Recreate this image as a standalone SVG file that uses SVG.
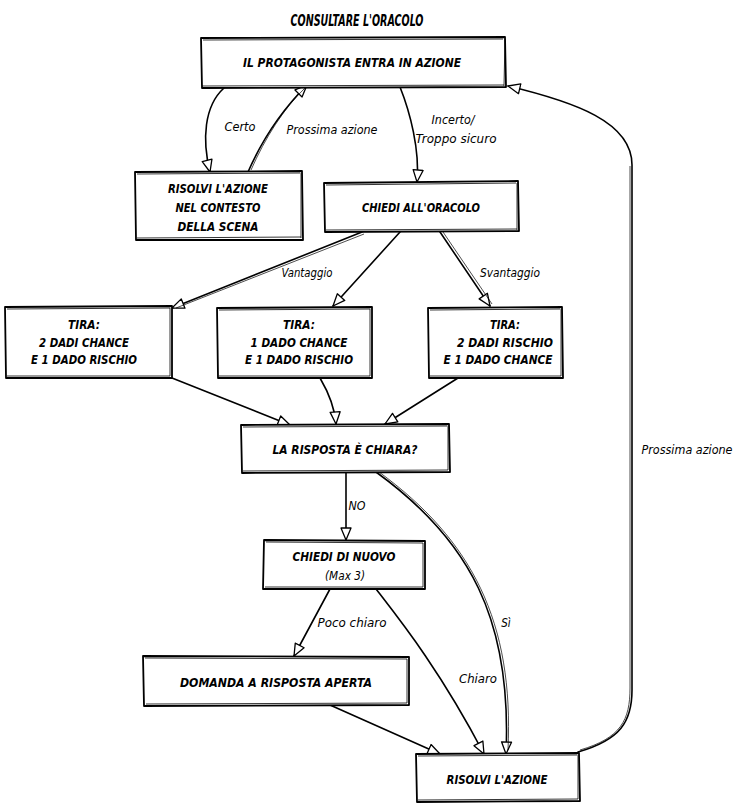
<svg xmlns="http://www.w3.org/2000/svg" width="744" height="808" viewBox="0 0 744 808">
<defs>
<marker id="ah" markerUnits="userSpaceOnUse" markerWidth="16" markerHeight="14" refX="13" refY="6" orient="auto">
<path d="M1,1 L13,6 L1,11 Z" fill="#fff" stroke="#000" stroke-width="1.3" stroke-linejoin="round"/>
</marker>
<style>
.box{fill:#fff;stroke:#000;stroke-width:1.8;stroke-linejoin:round}
.box2{fill:none;stroke:#000;stroke-width:0.8}
.n{font-family:"DejaVu Sans Condensed","DejaVu Sans",sans-serif;font-stretch:condensed;font-weight:bold;font-style:italic;font-size:13px;fill:#000;text-anchor:middle}
.t{font-family:"DejaVu Sans Condensed","DejaVu Sans",sans-serif;font-stretch:condensed;font-weight:bold;font-style:italic;font-size:15px;fill:#000;text-anchor:middle}
.l{font-family:"DejaVu Sans Condensed","DejaVu Sans",sans-serif;font-stretch:condensed;font-style:italic;font-size:11.5px;fill:#000;text-anchor:middle}
.c{fill:none;stroke:#000;stroke-width:1.6;stroke-linecap:round}
.c2{fill:none;stroke:#000;stroke-width:0.7}
</style>
</defs>
<rect width="744" height="808" fill="#fff"/>
<text class="t" x="357" y="26" textLength="133" lengthAdjust="spacingAndGlyphs">CONSULTARE L'ORACOLO</text>

<g id="connectors">
<path class="c" d="M224 88 C204 106 202 140 210 172" marker-end="url(#ah)"/>
<path class="c" d="M248 172 C262 140 282 110 307 85" marker-end="url(#ah)"/>
<path class="c2" d="M251 170 C265 138 284 108 305 88"/>
<path class="c" d="M400 87 C410 112 420 150 417 182" marker-end="url(#ah)"/>
<path class="c" d="M362 232 L172 308" marker-end="url(#ah)"/>
<path class="c2" d="M364 234 L176 308"/>
<path class="c" d="M400 232 L333 306" marker-end="url(#ah)"/>
<path class="c" d="M440 232 L490 306" marker-end="url(#ah)"/>
<path class="c2" d="M443 232 L492 304"/>
<path class="c" d="M172 378 L290 425" marker-end="url(#ah)"/>
<path class="c" d="M320 378 C330 395 335 410 336 424" marker-end="url(#ah)"/>
<path class="c" d="M458 378 L385 424" marker-end="url(#ah)"/>
<path class="c" d="M346 472 L346 540" marker-end="url(#ah)"/>
<path class="c" d="M376 472 C470 540 512 620 506 754" marker-end="url(#ah)"/>
<path class="c2" d="M379 472 C472 540 514 622 508 750"/>
<path class="c" d="M330 589 L294 656" marker-end="url(#ah)"/>
<path class="c" d="M376 589 C400 620 440 670 484 754" marker-end="url(#ah)"/>
<path class="c" d="M330 705 L440 754" marker-end="url(#ah)"/>
<path class="c" d="M578 752 C620 740 632 722 632 690 L632 165 C632 122 575 102 508 86" marker-end="url(#ah)"/>
<path class="c2" d="M580 750 C621 738 630 720 630 688 L630 166"/>
<text class="l" x="240" y="131" textLength="31" lengthAdjust="spacingAndGlyphs">Certo</text>
<text class="l" x="332" y="134" textLength="91" lengthAdjust="spacingAndGlyphs">Prossima azione</text>
<text class="l" x="453" y="124" textLength="43" lengthAdjust="spacingAndGlyphs">Incerto/</text>
<text class="l" x="456" y="143" textLength="81" lengthAdjust="spacingAndGlyphs">Troppo sicuro</text>
<text class="l" x="307" y="277" textLength="51" lengthAdjust="spacingAndGlyphs">Vantaggio</text>
<text class="l" x="510" y="277" textLength="60" lengthAdjust="spacingAndGlyphs">Svantaggio</text>
<text class="l" x="357" y="510" textLength="17" lengthAdjust="spacingAndGlyphs">NO</text>
<text class="l" x="352" y="627" textLength="69" lengthAdjust="spacingAndGlyphs">Poco chiaro</text>
<text class="l" x="506" y="627">Sì</text>
<text class="l" x="478" y="683" textLength="38" lengthAdjust="spacingAndGlyphs">Chiaro</text>
<text class="l" x="687" y="454" textLength="91" lengthAdjust="spacingAndGlyphs">Prossima azione</text>
</g>

<g id="n-protagonista">
<path class="box" d="M201 38 L505 37 L506 87 L202 88 Z"/>
<path class="box2" d="M203 40 L503 39 M505 39 L504 86 M202 86 L504 85"/>
<text class="n" x="352" y="67" textLength="218" lengthAdjust="spacingAndGlyphs">IL PROTAGONISTA ENTRA IN AZIONE</text>
</g>

<g id="n-risolvi-contesto">
<path class="box" d="M135 172 L302 171 L303 240 L136 240 Z"/>
<path class="box2" d="M137 174 L300 173 M301 173 L301 238 M137 238 L301 237"/>
<text class="n" x="218" y="193" textLength="100" lengthAdjust="spacingAndGlyphs">RISOLVI L'AZIONE</text>
<text class="n" x="218" y="212" textLength="85" lengthAdjust="spacingAndGlyphs">NEL CONTESTO</text>
<text class="n" x="218" y="231" textLength="81" lengthAdjust="spacingAndGlyphs">DELLA SCENA</text>
</g>

<g id="n-chiedi-oracolo">
<path class="box" d="M324 183 L518 181 L519 231 L325 232 Z"/>
<path class="box2" d="M326 185 L516 183 M517 183 L517 230 M326 230 L517 229"/>
<text class="n" x="421" y="212" textLength="118" lengthAdjust="spacingAndGlyphs">CHIEDI ALL'ORACOLO</text>
</g>

<g id="n-tira-vantaggio">
<path class="box" d="M5 307 L172 306 L172 378 L6 378 Z"/>
<path class="box2" d="M7 309 L170 308 M170 308 L170 376 M7 376 L170 376"/>
<text class="n" x="84" y="329" textLength="32" lengthAdjust="spacingAndGlyphs">TIRA:</text>
<text class="n" x="84" y="347" textLength="90" lengthAdjust="spacingAndGlyphs">2 DADI CHANCE</text>
<text class="n" x="84" y="364" textLength="106" lengthAdjust="spacingAndGlyphs">E 1 DADO RISCHIO</text>
</g>

<g id="n-tira-normale">
<path class="box" d="M217 308 L372 307 L372 378 L218 378 Z"/>
<path class="box2" d="M219 310 L370 309 M370 309 L370 376 M219 376 L370 376"/>
<text class="n" x="299" y="329" textLength="32" lengthAdjust="spacingAndGlyphs">TIRA:</text>
<text class="n" x="299" y="347" textLength="97" lengthAdjust="spacingAndGlyphs">1 DADO CHANCE</text>
<text class="n" x="299" y="364" textLength="108" lengthAdjust="spacingAndGlyphs">E 1 DADO RISCHIO</text>
</g>

<g id="n-tira-svantaggio">
<path class="box" d="M428 308 L562 307 L563 378 L429 378 Z"/>
<path class="box2" d="M430 310 L560 309 M561 309 L561 376 M430 376 L561 376"/>
<text class="n" x="505" y="329" textLength="30" lengthAdjust="spacingAndGlyphs">TIRA:</text>
<text class="n" x="505" y="347" textLength="96" lengthAdjust="spacingAndGlyphs">2 DADI RISCHIO</text>
<text class="n" x="498" y="364" textLength="109" lengthAdjust="spacingAndGlyphs">E 1 DADO CHANCE</text>
</g>

<g id="n-risposta-chiara">
<path class="box" d="M241 425 L449 424 L450 472 L242 473 Z"/>
<path class="box2" d="M243 427 L447 426 M448 426 L448 470 M243 471 L448 470"/>
<text class="n" x="345" y="454" textLength="145" lengthAdjust="spacingAndGlyphs">LA RISPOSTA È CHIARA?</text>
</g>

<g id="n-chiedi-nuovo">
<path class="box" d="M264 540 L425 541 L425 589 L263 589 Z"/>
<path class="box2" d="M266 542 L423 543 M423 543 L423 587 M265 587 L423 587"/>
<text class="n" x="344" y="561" textLength="103" lengthAdjust="spacingAndGlyphs">CHIEDI DI NUOVO</text>
<text class="l" x="345" y="580" textLength="40" lengthAdjust="spacingAndGlyphs">(Max 3)</text>
</g>

<g id="n-domanda-aperta">
<path class="box" d="M143 656 L409 657 L409 705 L144 706 Z"/>
<path class="box2" d="M145 658 L407 659 M407 659 L407 703 M146 704 L407 703"/>
<text class="n" x="276" y="687" textLength="192" lengthAdjust="spacingAndGlyphs">DOMANDA A RISPOSTA APERTA</text>
</g>

<g id="n-risolvi-azione">
<path class="box" d="M416 754 L579 753 L580 801 L417 802 Z"/>
<path class="box2" d="M418 756 L577 755 M578 755 L578 799 M418 800 L578 799"/>
<text class="n" x="497" y="784" textLength="101" lengthAdjust="spacingAndGlyphs">RISOLVI L'AZIONE</text>
</g>
</svg>
